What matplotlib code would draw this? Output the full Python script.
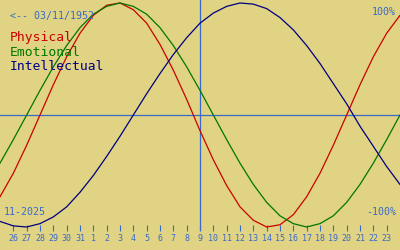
import matplotlib as mpl
mpl.use('Agg')
from matplotlib import pyplot as plt

# days shown: 25 Oct 2025 (index 0) .. 24 Nov 2025 (index 30)
days = list(range(31))
physical = [-0.73, -0.52, -0.27, 0.00, 0.27, 0.52, 0.73, 0.89, 0.98, 1.00,
            0.94, 0.82, 0.63, 0.40, 0.14, -0.14, -0.40, -0.63, -0.82, -0.94,
            -1.00, -0.98, -0.89, -0.73, -0.52, -0.27, 0.00, 0.27, 0.52, 0.73, 0.89]
emotional = [-0.43, -0.22, 0.00, 0.22, 0.43, 0.62, 0.78, 0.90, 0.97, 1.00,
             0.97, 0.90, 0.78, 0.62, 0.43, 0.22, 0.00, -0.22, -0.43, -0.62,
             -0.78, -0.90, -0.97, -1.00, -0.97, -0.90, -0.78, -0.62, -0.43, -0.22, 0.00]
intellectual = [-0.95, -0.99, -1.00, -0.97, -0.91, -0.82, -0.69, -0.54, -0.37, -0.19,
                0.00, 0.19, 0.37, 0.54, 0.69, 0.82, 0.91, 0.97, 1.00, 0.99,
                0.95, 0.87, 0.76, 0.62, 0.46, 0.28, 0.10, -0.10, -0.28, -0.46, -0.62]
tick_days = list(range(1, 30))
tick_labels = ['26', '27', '28', '29', '30', '31'] + [str(i) for i in range(1, 24)]
today = 15

bg = '#e0d383'
blue = '#3a6ac8'
mono = 'DejaVu Sans Mono'

fig = plt.figure(figsize=(4, 2.5), dpi=100, facecolor=bg)
# axes bottom at pixel row 231, top at 0; zero line at row 115
ax = fig.add_axes([0, 19 / 250, 1, 231 / 250])
ax.set_facecolor(bg)
ax.set_xlim(0, 30)
ax.set_ylim((115 - 231) / 112, 115 / 112)
for s in ax.spines.values():
    s.set_visible(False)

ax.axhline(0, color=blue, lw=0.9)
ax.axvline(today, color=blue, lw=0.9)
ax.plot(days, physical, color='#cc0000', lw=0.9, clip_on=False)
ax.plot(days, emotional, color='#007700', lw=0.9, clip_on=False)
ax.plot(days, intellectual, color='#000080', lw=0.9, clip_on=False)

ax.set_xticks(tick_days)
ax.set_xticklabels(tick_labels, family=mono, fontsize=6, color=blue)
ax.tick_params(axis='x', direction='in', length=4.3, width=0.8, color=blue, pad=2.5)
ax.set_yticks([])

def t(x, y, s, **kw):
    fig.text(x / 400, 1 - y / 250, s, family=mono, va='center', **kw)

t(10, 16, '<-- 03/11/1952', fontsize=7.2, color=blue)
t(396, 12, '100%', fontsize=7.2, color=blue, ha='right')
t(396, 212, '-100%', fontsize=7.2, color=blue, ha='right')
t(4, 212, '11-2025', fontsize=7.2, color=blue)
t(10, 38, 'Physical', fontsize=9.4, color='#cc0000')
t(10, 53, 'Emotional', fontsize=9.4, color='#007700')
t(10, 67, 'Intellectual', fontsize=9.4, color='#000080')

fig.savefig('out.png', dpi=100, facecolor=bg)
